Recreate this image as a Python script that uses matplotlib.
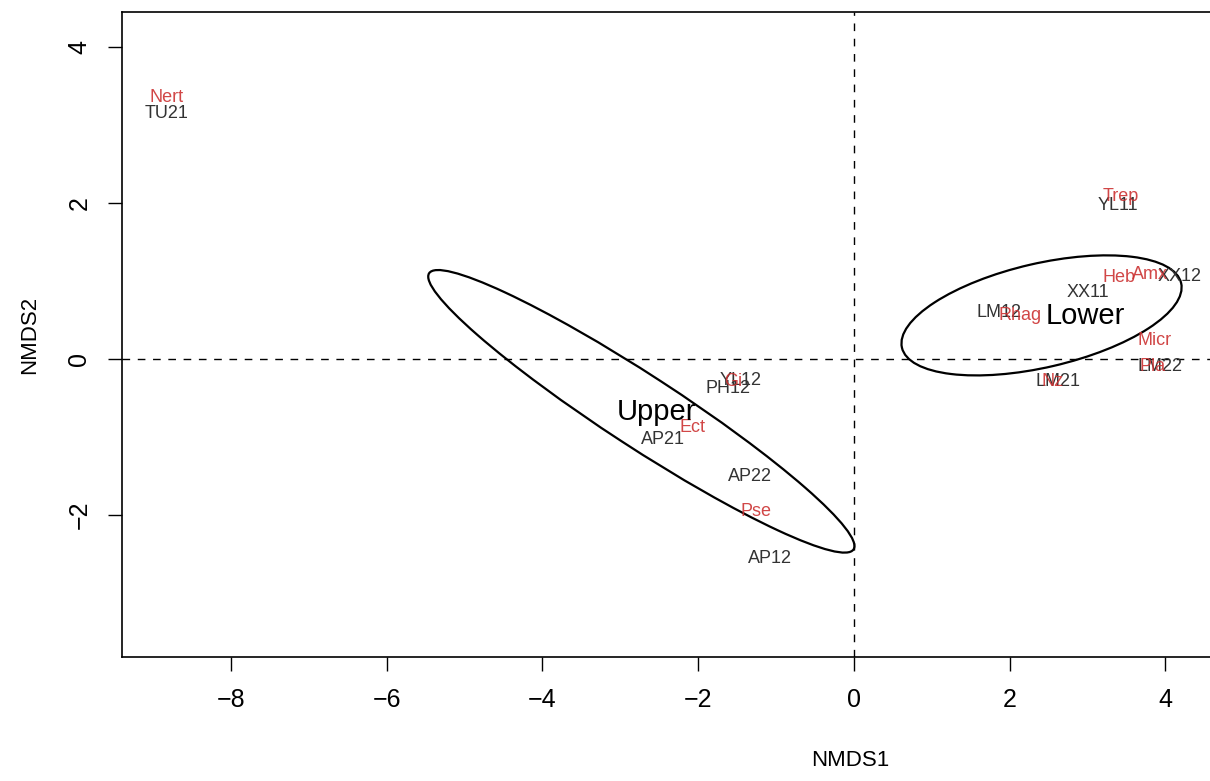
import matplotlib.pyplot as plt
from matplotlib.patches import Ellipse

plt.rcParams['font.family'] = ['Liberation Sans', 'DejaVu Sans']

# sample scores (site labels)
site_names = ["TU21", "YL11", "XX12", "XX11", "LM12", "LM22", "LM21",
              "YL12", "PH12", "AP21", "AP22", "AP12"]
site_x = [-8.83, 3.39, 4.18, 3.00, 1.87, 3.93, 2.62, -1.46, -1.62, -2.45, -1.34, -1.08]
site_y = [3.15, 1.97, 1.06, 0.85, 0.60, -0.09, -0.29, -0.27, -0.38, -1.03, -1.50, -2.56]

# species scores
spec_names = ["Nert", "Trep", "Heb", "Amx", "Micr", "Pla", "Nz",
              "Rhag", "Gi", "Ect", "Pse"]
spec_x = [-8.83, 3.43, 3.41, 3.80, 3.86, 3.83, 2.55, 2.13, -1.55, -2.07, -1.26]
spec_y = [3.36, 2.09, 1.04, 1.08, 0.24, -0.09, -0.29, 0.56, -0.29, -0.88, -1.96]

# group ellipses: centre, semi axes, angle (deg)
groups = ["Upper", "Lower"]
grp_cx = [-2.73, 2.41]
grp_cy = [-0.67, 0.56]
grp_a = [3.25, 1.84]
grp_b = [0.46, 0.666]
grp_ang = [-33.0, 13.0]
grp_lab_x = [-2.54, 2.97]
grp_lab_y = [-0.68, 0.55]

fig = plt.figure(figsize=(12.1, 7.81), dpi=100)
# the original plot is wider than the image, so the axes run off the right side
ax = fig.add_axes([122 / 1210, 1 - 657 / 781, (1578 - 122) / 1210, (657 - 12) / 781])

ax.axhline(0, color='black', linestyle=(0, (5.5, 5.5)), linewidth=1)
ax.axvline(0, color='black', linestyle=(0, (5.5, 5.5)), linewidth=1)

for n, x, y in zip(site_names, site_x, site_y):
    ax.text(x, y, n, color='#333333', fontsize=13, ha='center', va='center')
for n, x, y in zip(spec_names, spec_x, spec_y):
    ax.text(x, y, n, color='#cc3333', fontsize=13, ha='center', va='center', alpha=0.9)

for i in range(len(groups)):
    e = Ellipse((grp_cx[i], grp_cy[i]), 2 * grp_a[i], 2 * grp_b[i], angle=grp_ang[i],
                fill=False, edgecolor='black', linewidth=1.6)
    ax.add_patch(e)
    ax.text(grp_lab_x[i], grp_lab_y[i], groups[i], fontsize=21, ha='center', va='center')

ax.set_xlim(-9.40, 9.30)
ax.set_ylim(-3.82, 4.45)
ax.set_xticks([-8, -6, -4, -2, 0, 2, 4])
ax.set_yticks([-2, 0, 2, 4])
ax.tick_params(length=10, width=1, labelsize=18, pad=12)
ax.tick_params(axis='y', labelrotation=90)
for lab in ax.get_yticklabels():
    lab.set_va('center')
for s in ax.spines.values():
    s.set_linewidth(1.2)

ax.set_xlabel("NMDS1", fontsize=16, labelpad=28)
ax.set_ylabel("NMDS2", fontsize=16, labelpad=20)

fig.savefig("out.png", dpi=100)
